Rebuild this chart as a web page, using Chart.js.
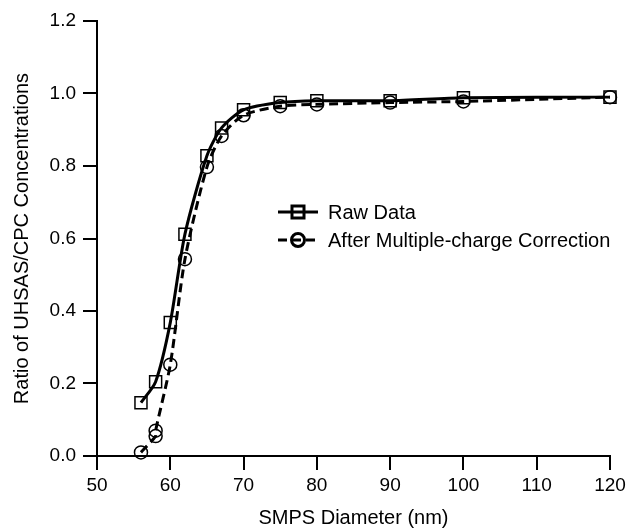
<!DOCTYPE html>
<html>
<head>
<meta charset="utf-8">
<script src="https://cdn.jsdelivr.net/npm/chart.js@4.4.0/dist/chart.umd.min.js"></script>
<style>
  html, body { margin: 0; padding: 0; background: #fff; }
  #wrap { width: 626px; height: 532px; }
</style>
</head>
<body>
<div id="wrap"><canvas id="chart" width="626" height="532"></canvas></div>
<script>
// SMPS diameter (nm) and UHSAS/CPC ratio
const rawX = [56, 58, 60, 62, 65, 67, 70, 75, 80, 90, 100, 120];
const rawY = [0.147, 0.205, 0.368, 0.612, 0.828, 0.905, 0.955, 0.975, 0.98, 0.98, 0.988, 0.99];

const corrX = [56, 58, 58, 60, 62, 65, 67, 70, 75, 80, 90, 100, 120];
const corrY = [0.01, 0.055, 0.07, 0.252, 0.543, 0.797, 0.883, 0.94, 0.965, 0.97, 0.975, 0.978, 0.99];

const xTicks = [50, 60, 70, 80, 90, 100, 110, 120];
const yTicks = [0.0, 0.2, 0.4, 0.6, 0.8, 1.0, 1.2];

const FONT = 'Liberation Sans, Arial, sans-serif';

const toPoints = (xs, ys) => xs.map((x, i) => ({ x, y: ys[i] }));

// legend drawn inside the plot, line sample with marker on it
const insideLegend = {
  id: 'insideLegend',
  afterDraw(chart) {
    const ctx = chart.ctx;
    const x0 = 278, x1 = 318, tx = 328, y0 = 212, gap = 28;
    chart.data.datasets.forEach((ds, i) => {
      const y = y0 + i * gap;
      ctx.save();
      ctx.strokeStyle = '#000';
      ctx.lineWidth = ds.borderWidth;
      ctx.setLineDash(ds.borderDash || []);
      ctx.beginPath();
      ctx.moveTo(x0, y);
      ctx.lineTo(x1, y);
      ctx.stroke();
      ctx.setLineDash([]);
      Chart.helpers.drawPoint(ctx, {
        pointStyle: ds.pointStyle,
        radius: ds.pointRadius,
        borderWidth: ds.pointBorderWidth
      }, (x0 + x1) / 2, y);
      ctx.fillStyle = '#000';
      ctx.font = '20px ' + FONT;
      ctx.textBaseline = 'middle';
      ctx.textAlign = 'left';
      ctx.fillText(ds.label, tx, y + 1);
      ctx.restore();
    });
  }
};

new Chart(document.getElementById('chart'), {
  type: 'line',
  data: {
    datasets: [
      {
        label: 'Raw Data',
        data: toPoints(rawX, rawY),
        borderColor: '#000',
        borderWidth: 3,
        tension: 0.25,
        pointStyle: 'rect',
        pointRadius: 8.5,
        pointBorderWidth: 1.5,
        pointBorderColor: '#000',
        pointBackgroundColor: 'rgba(0,0,0,0)',
        clip: false
      },
      {
        label: 'After Multiple-charge Correction',
        data: toPoints(corrX, corrY),
        borderColor: '#000',
        borderWidth: 3,
        borderDash: [9, 5],
        tension: 0.25,
        pointStyle: 'circle',
        pointRadius: 6.5,
        pointBorderWidth: 1.5,
        pointBorderColor: '#000',
        pointBackgroundColor: 'rgba(0,0,0,0)',
        clip: false
      }
    ]
  },
  options: {
    responsive: false,
    animation: false,
    layout: { padding: { top: 21, right: 16, left: 0, bottom: 0 } },
    plugins: {
      legend: { display: false },
      tooltip: { enabled: false }
    },
    scales: {
      x: {
        type: 'linear',
        min: 50,
        max: 120,
        afterFit: (s) => { s.height = 76; s.paddingLeft = 0; s.paddingRight = 0; },
        afterBuildTicks: (s) => { s.ticks = xTicks.map(v => ({ value: v })); },
        border: { color: '#000', width: 2 },
        grid: { drawOnChartArea: false, color: '#000', lineWidth: 2, tickLength: 14 },
        ticks: { color: '#000', font: { family: FONT, size: 19 }, padding: 4, maxRotation: 0 },
        title: { display: true, text: 'SMPS Diameter (nm)', color: '#000', font: { family: FONT, size: 20 }, padding: { top: 0, bottom: 2 } }
      },
      y: {
        type: 'linear',
        min: 0,
        max: 1.2,
        afterFit: (s) => { s.width = 97; s.paddingTop = 0; s.paddingBottom = 0; },
        afterBuildTicks: (s) => { s.ticks = yTicks.map(v => ({ value: v })); },
        border: { color: '#000', width: 2 },
        grid: { drawOnChartArea: false, color: '#000', lineWidth: 2, tickLength: 14 },
        ticks: { color: '#000', font: { family: FONT, size: 19 }, padding: 7, callback: (v) => v.toFixed(1) },
        title: { display: true, text: 'Ratio of UHSAS/CPC Concentrations', color: '#000', font: { family: FONT, size: 20 }, padding: { top: 10, bottom: 0 } }
      }
    }
  },
  plugins: [insideLegend]
});
</script>
</body>
</html>
